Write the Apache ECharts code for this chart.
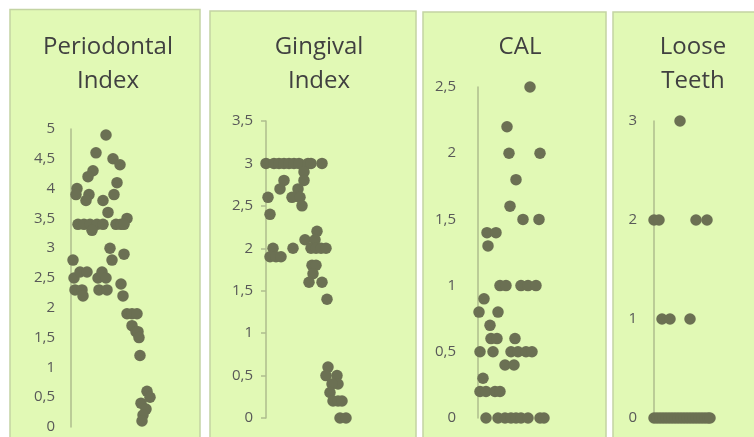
<!DOCTYPE html>
<html>
<head>
<meta charset="utf-8">
<script src="https://cdn.jsdelivr.net/npm/echarts@6/dist/echarts.min.js"></script>
<style>
html,body{margin:0;padding:0;background:#fff;}
#chart{width:754px;height:437px;}
</style>
</head>
<body>
<div id="chart"></div>
<script>
// Panel titles
const panelTitles = ['Periodontal\nIndex', 'Gingival\nIndex', 'CAL', 'Loose\nTeeth'];
// y-axis maxima and intervals
const axisMax = [5, 3.5, 2.5, 3];
const axisInterval = [0.5, 0.5, 0.5, 1];

// [horizontal jitter position, value]
const periodontalPoints = [
  [35,4.9],[25,4.6],[42,4.5],[49,4.4],[22,4.3],[17,4.2],[46,4.1],[6,4.0],[5,3.9],[18,3.9],[43,3.9],
  [15,3.8],[32,3.8],[37,3.6],[56,3.5],
  [7,3.4],[13,3.4],[19,3.4],[26,3.4],[32,3.4],[45,3.4],[50,3.4],[53,3.4],[21,3.3],
  [39,3.0],[41,2.8],[53,2.9],[2,2.8],
  [3,2.5],[9,2.6],[16,2.6],[4,2.3],[11,2.3],[12,2.2],[27,2.5],[31,2.6],[35,2.5],[28,2.3],[36,2.3],
  [50,2.4],[52,2.2],
  [56,1.9],[61,1.9],[66,1.9],[61,1.7],[65,1.6],[67,1.6],[68,1.5],[69,1.2],
  [76,0.6],[79,0.5],[70,0.4],[75,0.3],[72,0.2],[71,0.1]
];
const gingivalPoints = [
  [0,3.0],[8,3.0],[13,3.0],[18,3.0],[23,3.0],[28,3.0],[33,3.0],[42,3.0],[45,3.0],[56,3.0],
  [38,2.9],[38,2.8],[18,2.8],[14,2.7],[32,2.7],[26,2.6],[34,2.6],[36,2.5],[2,2.6],[4,2.4],
  [7,2.0],[4,1.9],[10,1.9],[15,1.9],[27,2.0],[39,2.1],[51,2.2],[49,2.1],
  [45,2.0],[50,2.0],[55,2.0],[60,2.0],
  [46,1.8],[50,1.8],[47,1.7],[43,1.6],[56,1.6],[61,1.4],
  [62,0.6],[60,0.5],[71,0.5],[72,0.4],[66,0.4],[64,0.3],[67,0.2],[72,0.2],[76,0.2],[74,0],[80,0]
];
const calPoints = [
  [52,2.5],[29,2.2],[31,2.0],[62,2.0],[38,1.8],[32,1.6],[45,1.5],[61,1.5],
  [9,1.4],[18,1.4],[10,1.3],
  [22,1.0],[28,1.0],[43,1.0],[50,1.0],[58,1.0],
  [6,0.9],[1,0.8],[20,0.8],[12,0.7],[13,0.6],[19,0.6],[37,0.6],
  [2,0.5],[15,0.5],[33,0.5],[40,0.5],[48,0.5],[54,0.5],
  [27,0.4],[36,0.4],[5,0.3],
  [2,0.2],[8,0.2],[17,0.2],[22,0.2],
  [8,0],[20,0],[27,0],[33,0],[38,0],[43,0],[50,0],[62,0],[66,0]
];
const looseTeethPoints = [
  [26,3],[0,2],[5,2],[42,2],[53,2],[8,1],[16,1],[36,1],
  [0,0],[3,0],[6,0],[9,0],[12,0],[15,0],[18,0],[21,0],[24,0],[27,0],[30,0],[33,0],[36,0],
  [39,0],[42,0],[45,0],[48,0],[51,0],[54,0],[56,0]
];
const panelData = [periodontalPoints, gingivalPoints, calPoints, looseTeethPoints];

// layout (pixels)
const panelRects = [[10,9.5,190,440],[210,11,206,440],[423,12,183,440],[613,12,150,440]];
const gridLayout = [
  {left:71, top:129, height:298},
  {left:266, top:121, height:297},
  {left:478, top:87, height:331},
  {left:654, top:121, height:297}
];
const titleCenters = [103, 314, 515, 688];
const labelMargins = [16, 13, 22, 17];

const chart = echarts.init(document.getElementById('chart'), null, {renderer:'canvas'});

const grids = gridLayout.map(g => ({left:g.left, top:g.top, height:g.height, width:100, containLabel:false}));
const xAxes = gridLayout.map((g,i) => ({
  type:'value', gridIndex:i, min:0, max:100, show:false
}));
const yAxes = gridLayout.map((g,i) => ({
  type:'value', gridIndex:i, min:0, max:axisMax[i], interval:axisInterval[i],
  axisLine:{show:true, onZero:false, lineStyle:{color:'#aebd8e', width:1.5}},
  axisTick:{show:i===1, length:5, lineStyle:{color:'#aebd8e', width:1.5}},
  splitLine:{show:false},
  axisLabel:{
    color:'#595959', fontSize:15, fontFamily:'Open Sans', margin:labelMargins[i],
    formatter: v => String(v).replace('.', ',')
  }
}));
const series = panelData.map((d,i) => ({
  type:'scatter', xAxisIndex:i, yAxisIndex:i, data:d, symbolSize:11.5, clip:false,
  itemStyle:{color:'#6b7053', opacity:1}, z:5
}));
const titles = panelTitles.map((t,i) => ({
  text:t, left:titleCenters[i], top:25, textAlign:'center',
  textStyle:{fontFamily:'Open Sans', fontSize:24, fontWeight:'normal', color:'#404040', lineHeight:34}
}));
const graphics = panelRects.map(r => ({
  type:'rect', z:-10, shape:{x:r[0], y:r[1], width:r[2], height:r[3]},
  style:{fill:'#e1f9b5', stroke:'#c3d4a3', lineWidth:1.5}
}));

chart.setOption({
  animation:false,
  backgroundColor:'#ffffff',
  graphic:graphics,
  title:titles,
  grid:grids,
  xAxis:xAxes,
  yAxis:yAxes,
  series:series
});
</script>
</body>
</html>
